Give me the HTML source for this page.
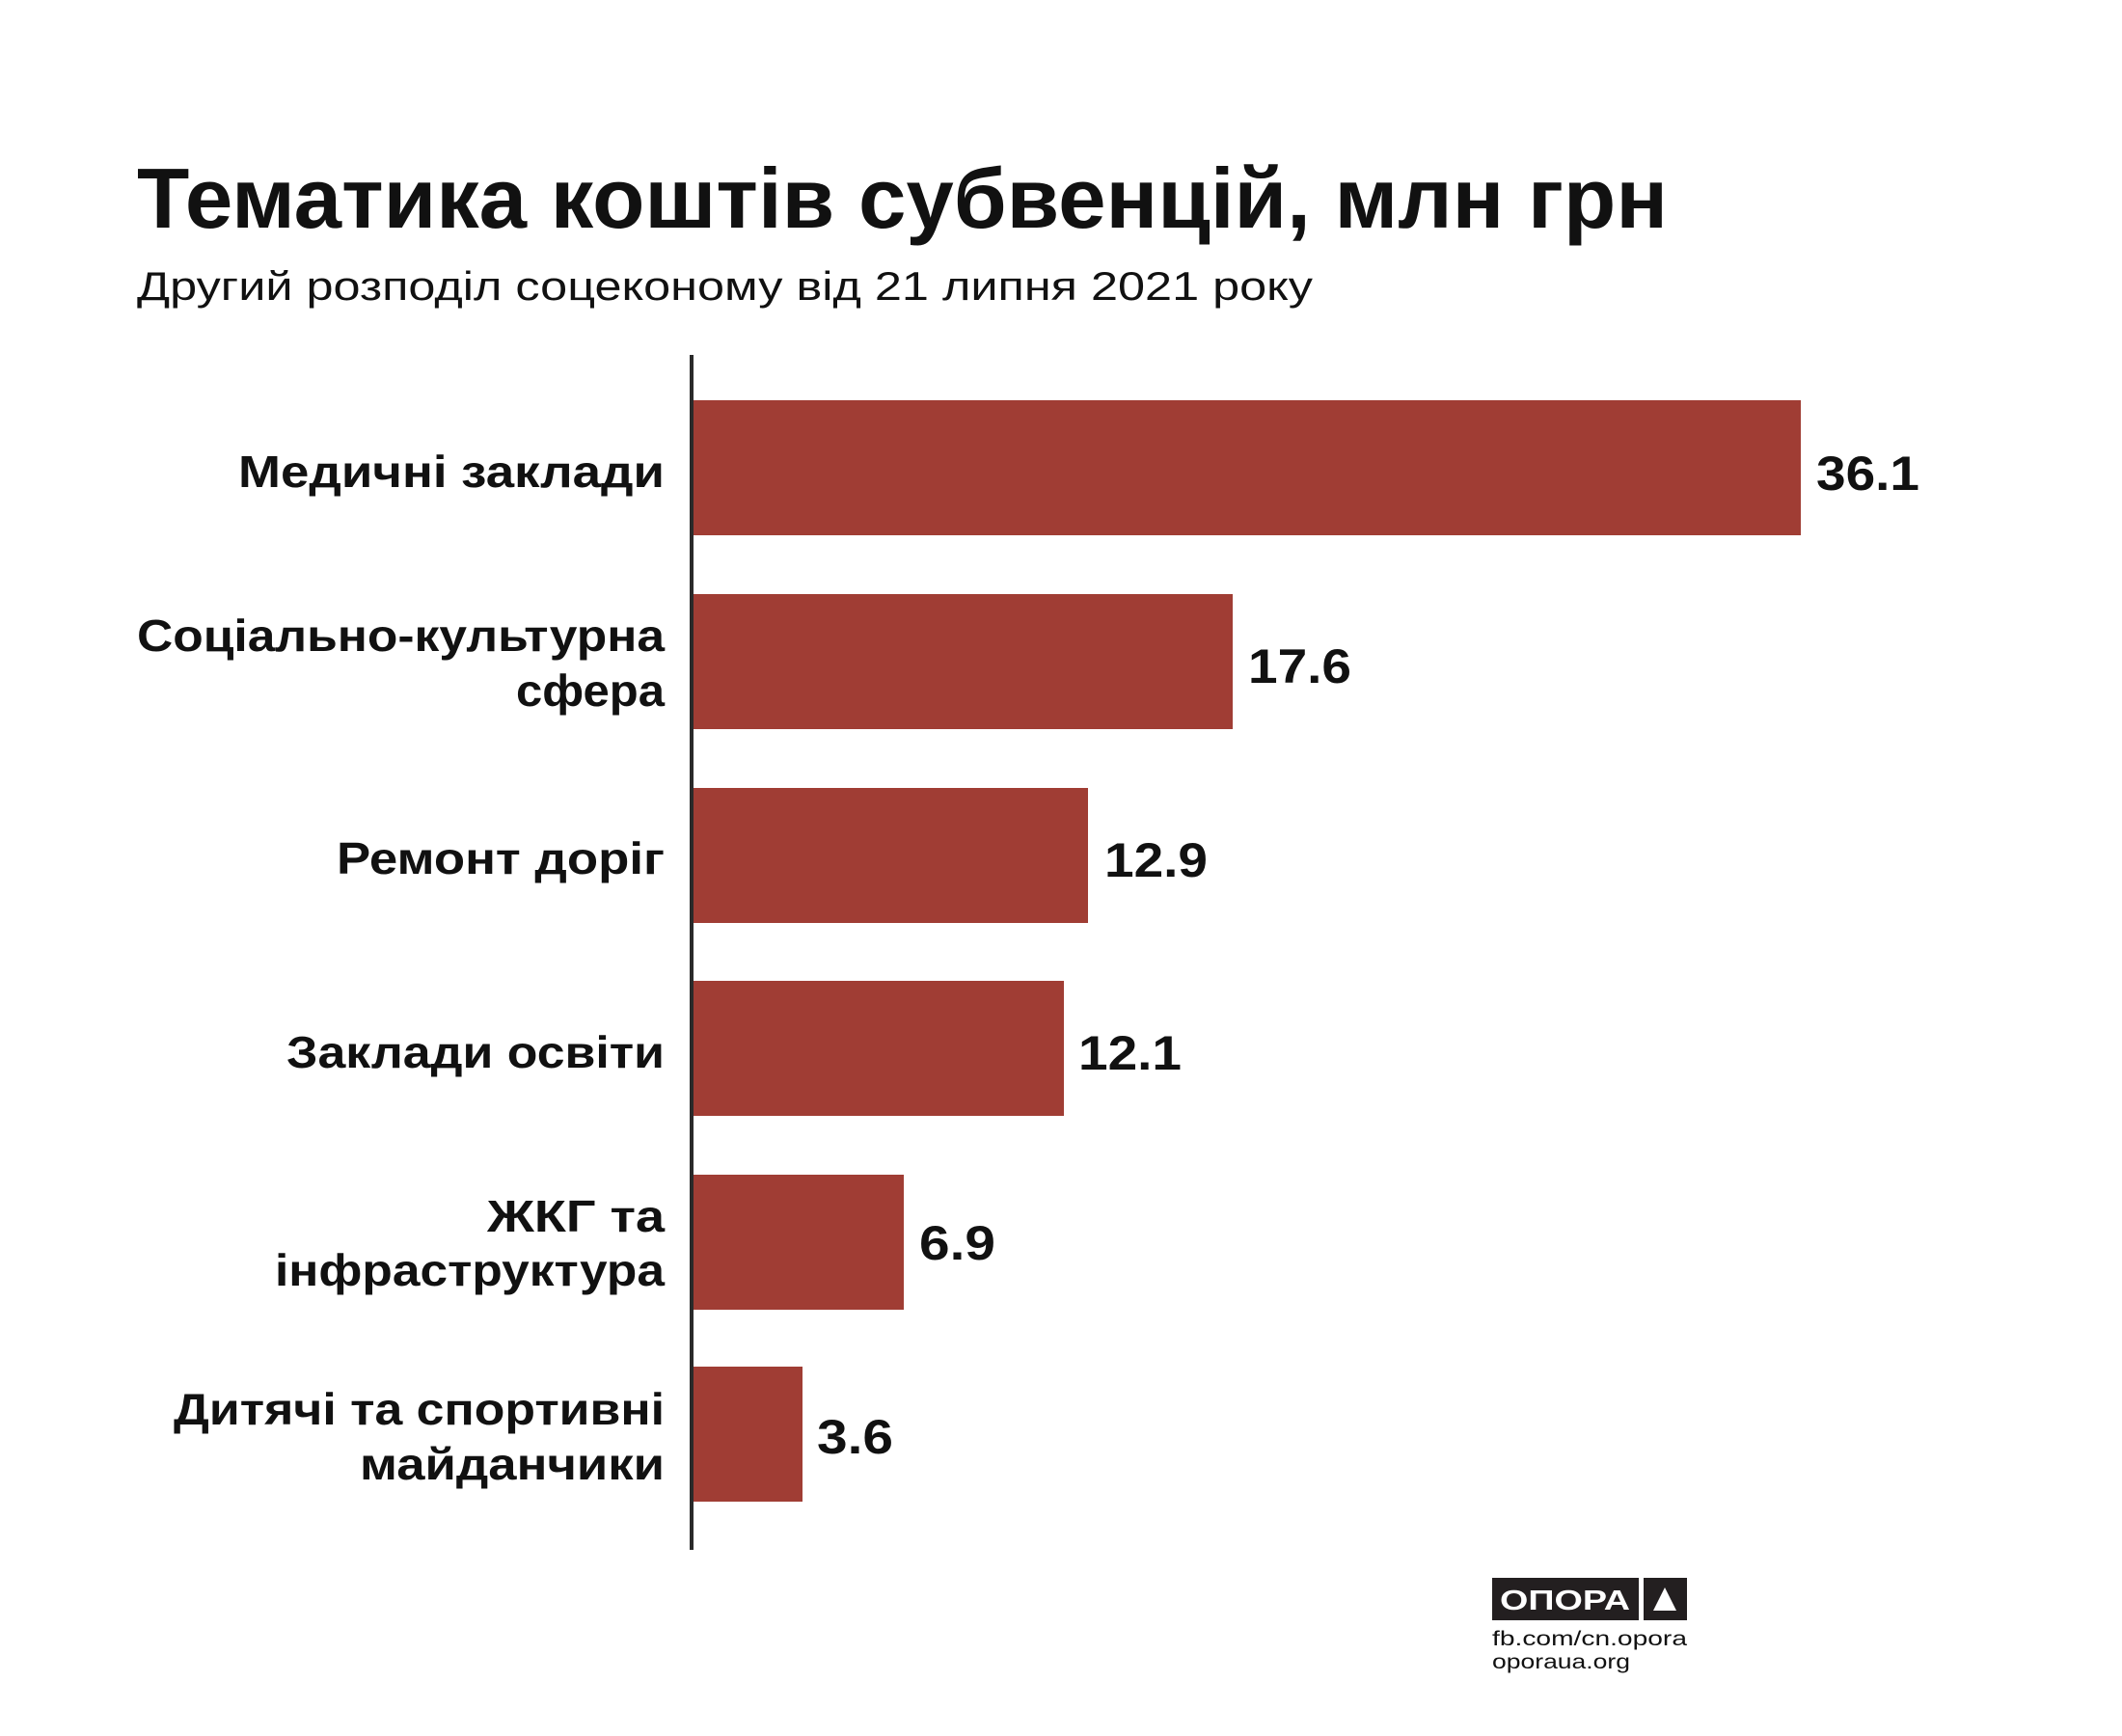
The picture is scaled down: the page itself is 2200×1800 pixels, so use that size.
<!DOCTYPE html>
<html><head><meta charset="utf-8"><style>html,body{margin:0;padding:0;background:#fff}svg{display:block}</style></head>
<body>
<svg width="2200" height="1800" viewBox="0 0 2200 1800" xmlns="http://www.w3.org/2000/svg" font-family="'Liberation Sans', sans-serif">
<rect width="2200" height="1800" fill="#fff"/>
<text x="142" y="236" font-size="88" font-weight="bold" fill="#111" textLength="1587" lengthAdjust="spacingAndGlyphs">Тематика коштів субвенцій, млн грн</text>
<text x="142" y="311" font-size="42" fill="#111" textLength="1219" lengthAdjust="spacingAndGlyphs">Другий розподіл соцеконому від 21 липня 2021 року</text>
<g fill="#a03d34">
<rect x="718" y="415" width="1149" height="140"/>
<rect x="718" y="616" width="560" height="140"/>
<rect x="718" y="817" width="410" height="140"/>
<rect x="718" y="1017" width="385" height="140"/>
<rect x="718" y="1218" width="219" height="140"/>
<rect x="718" y="1417" width="114" height="140"/>
</g>
<rect x="715" y="368" width="4" height="1239" fill="#2a2a2a"/>
<g font-size="46" font-weight="bold" fill="#111" text-anchor="end">
<text x="689" y="505" textLength="442" lengthAdjust="spacingAndGlyphs">Медичні заклади</text>
<text x="689" y="675" textLength="547" lengthAdjust="spacingAndGlyphs">Соціально-культурна</text>
<text x="689" y="732" textLength="154" lengthAdjust="spacingAndGlyphs">сфера</text>
<text x="689" y="906" textLength="340" lengthAdjust="spacingAndGlyphs">Ремонт доріг</text>
<text x="689" y="1107" textLength="392" lengthAdjust="spacingAndGlyphs">Заклади освіти</text>
<text x="689" y="1277" textLength="184" lengthAdjust="spacingAndGlyphs">ЖКГ та</text>
<text x="689" y="1333" textLength="404" lengthAdjust="spacingAndGlyphs">інфраструктура</text>
<text x="689" y="1477" textLength="509" lengthAdjust="spacingAndGlyphs">Дитячі та спортивні</text>
<text x="689" y="1534" textLength="316" lengthAdjust="spacingAndGlyphs">майданчики</text>
</g>
<g font-size="50" font-weight="bold" fill="#111">
<text x="1883" y="508" textLength="107" lengthAdjust="spacingAndGlyphs">36.1</text>
<text x="1294" y="708" textLength="107" lengthAdjust="spacingAndGlyphs">17.6</text>
<text x="1145" y="909" textLength="107" lengthAdjust="spacingAndGlyphs">12.9</text>
<text x="1118" y="1109" textLength="107" lengthAdjust="spacingAndGlyphs">12.1</text>
<text x="953" y="1306" textLength="79" lengthAdjust="spacingAndGlyphs">6.9</text>
<text x="847" y="1507" textLength="79" lengthAdjust="spacingAndGlyphs">3.6</text>
</g>
<rect x="1547" y="1636" width="152" height="44" fill="#231f20"/>
<rect x="1704" y="1636" width="45" height="44" fill="#231f20"/>
<polygon points="1726,1646 1738,1670 1714,1670" fill="#fff"/>
<text x="1555" y="1669" font-size="29" font-weight="bold" fill="#fff" textLength="135" lengthAdjust="spacingAndGlyphs">ОПОРА</text>
<text x="1547" y="1706" font-size="21" fill="#111" textLength="202" lengthAdjust="spacingAndGlyphs">fb.com/cn.opora</text>
<text x="1547" y="1730" font-size="21" fill="#111" textLength="143" lengthAdjust="spacingAndGlyphs">oporaua.org</text>
</svg>
</body></html>
